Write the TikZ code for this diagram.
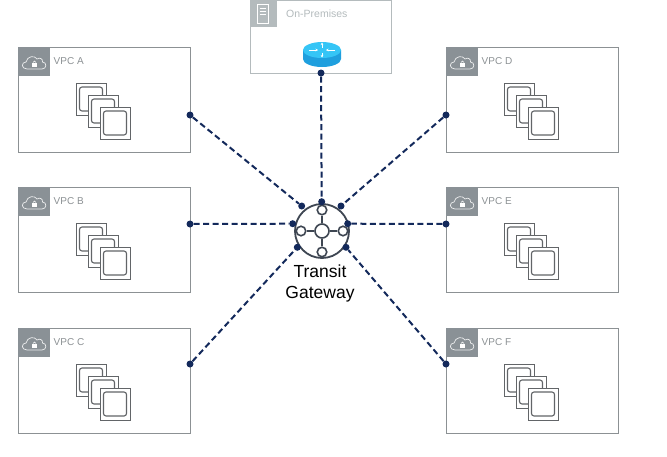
\documentclass[tikz,border=0pt]{standalone}
\usepackage{xcolor}
\usepackage{fontspec}
\setmainfont{Liberation Sans}
\usepackage{tikz}
\usetikzlibrary{arrows.meta,positioning}

\definecolor{boxgray}{HTML}{8C9194}
\definecolor{tabgray}{HTML}{8A9196}
\definecolor{premgray}{HTML}{B4BBBD}
\definecolor{linknavy}{HTML}{13295B}
\definecolor{gwgray}{HTML}{3E4652}
\definecolor{routertop}{HTML}{35C5F6}
\definecolor{routerside}{HTML}{1F9FDE}

\begin{document}
\begin{tikzpicture}[
  x=1pt, y=-1pt,
  vpcbox/.style={draw=boxgray, rectangle, line width=1pt, fill=white,
                 minimum width=172pt, minimum height=105pt, inner sep=0pt,
                 anchor=north west},
  prembox/.style={draw=premgray, rectangle, line width=1pt, fill=white,
                 minimum width=141pt, minimum height=73pt, inner sep=0pt,
                 anchor=north west},
  vpclabel/.style={font=\fontsize{10}{12}\selectfont, text=boxgray,
                 inner sep=0pt, anchor=west},
  premlabel/.style={font=\fontsize{10.5}{12}\selectfont, text=premgray,
                 inner sep=0pt, anchor=west},
  gwlabel/.style={font=\fontsize{17.5}{21}\selectfont, text=black,
                 align=center, inner sep=0pt},
  dot/.style={circle, fill=linknavy, draw=none, minimum size=7pt, inner sep=0pt},
  link/.style={draw=linknavy, line width=2pt, dash pattern=on 6pt off 3.5pt},
  port/.style={circle, draw=gwgray, line width=1.6pt, fill=white, inner sep=0pt},
  spoke/.style={draw=gwgray, line width=1.6pt},
  rarr/.style={-{Stealth[length=2.5pt,width=2.5pt]}, draw=white, line width=0.6pt},
  vpcicon/.pic={
    \fill[tabgray] (0,0) rectangle (32,29);
    \draw[white!85!tabgray, line width=0.7pt] (9,22) .. controls (3,22) and (3,15) .. (8,15)
      .. controls (9,9) and (17,8) .. (19,12) .. controls (22,10) and (25,12) .. (24.5,15)
      .. controls (29,15) and (29,22) .. (24,22) -- cycle;
    \fill[white] (14,15.5) rectangle (19,19.5);
    \draw[white, line width=0.6pt] (15,15.5) arc[start angle=180, end angle=360, radius=1.5];
  },
  stackicon/.pic={
    \foreach \d in {0,12,24} {
      \draw[draw=boxgray!70!black, fill=white, line width=0.6pt] (\d,\d) rectangle ++(30,32);
      \draw[draw=boxgray!70!black, line width=1.1pt, rounded corners=2.5pt]
        (\d+3.5,\d+4) rectangle ++(23,24);
    }
  }
]
\useasboundingbox (0,0) rectangle (667,456);
\fill[white] (0,0) rectangle (667,456);

% vpc boxes
\foreach \nm/\lab/\x/\y in {vpcA/VPC A/18/47, vpcB/VPC B/18/187, vpcC/VPC C/18/328,
                            vpcD/VPC D/446/47, vpcE/VPC E/446/187, vpcF/VPC F/446/328} {
  \node[vpcbox] (\nm) at (\x,\y) {};
  \pic at (\x,\y) {vpcicon};
  \pic at (\x+58,\y+36) {stackicon};
  \node[vpclabel] (\nm-label) at (\x+35.5,\y+14) {\lab};
}

% on premises
\node[prembox] (prem) at (250,0) {};
\fill[premgray] (250,0) rectangle (277,27);
\draw[white, line width=0.7pt] (257.5,4) rectangle (268,23);
\draw[white, line width=0.6pt] (259.5,8) -- (266,8) (259.5,11) -- (266,11) (259.5,14) -- (266,14);
\node[premlabel] (prem-label) at (286,14) {On-Premises};

% router
\fill[routerside] (303,50) -- (303,59) arc[start angle=180, end angle=0, x radius=19, y radius=8]
  -- (341,50) -- cycle;
\fill[routertop] (322,50) ellipse[x radius=19, y radius=8];
\draw[rarr] (309,50) -- (318,50);
\draw[rarr] (335,50) -- (326,50);
\draw[rarr] (322,47.5) -- (322,42.5);
\draw[rarr] (322,52.5) -- (322,57.5);

% gateway
\node[circle, draw=gwgray, line width=1.8pt, fill=white, minimum size=54pt, inner sep=0pt] (gw) at (322,231) {};
\node[port, minimum size=14pt] (hub) at (gw.center) {};
\node[port, minimum size=9.5pt] (gwN) at (322,210) {};
\node[port, minimum size=9.5pt] (gwS) at (322,252) {};
\node[port, minimum size=9.5pt] (gwW) at (301,231) {};
\node[port, minimum size=9.5pt] (gwE) at (343,231) {};
\draw[spoke] (hub) -- (gwN);
\draw[spoke] (hub) -- (gwS);
\draw[spoke] (hub) -- (gwW);
\draw[spoke] (hub) -- (gwE);
\node[gwlabel] (gwtext) at (320,283) {Transit\\Gateway};

% dots on the boxes
\node[dot] (endA) at (190,115) {};
\node[dot] (endB) at (190,224) {};
\node[dot] (endC) at (190,364) {};
\node[dot] (endD) at (446,115) {};
\node[dot] (endE) at (446,224) {};
\node[dot] (endF) at (446,364) {};
\node[dot] (endP) at (321,73) {};

% dots on the gateway
\node[dot] (gwA) at (301.7,206) {};
\node[dot] (gwB) at (292.7,223.7) {};
\node[dot] (gwC) at (297.3,247.3) {};
\node[dot] (gwD) at (341,206) {};
\node[dot] (gwE2) at (347.7,223.7) {};
\node[dot] (gwF) at (346,247.3) {};
\node[dot] (gwP) at (321.7,201.7) {};

\draw[link] (endA) -- (gwA);
\draw[link] (endB) -- (gwB);
\draw[link] (endC) -- (gwC);
\draw[link] (endD) -- (gwD);
\draw[link] (endE) -- (gwE2);
\draw[link] (endF) -- (gwF);
\draw[link] (endP) -- (gwP);
\end{tikzpicture}
\end{document}
